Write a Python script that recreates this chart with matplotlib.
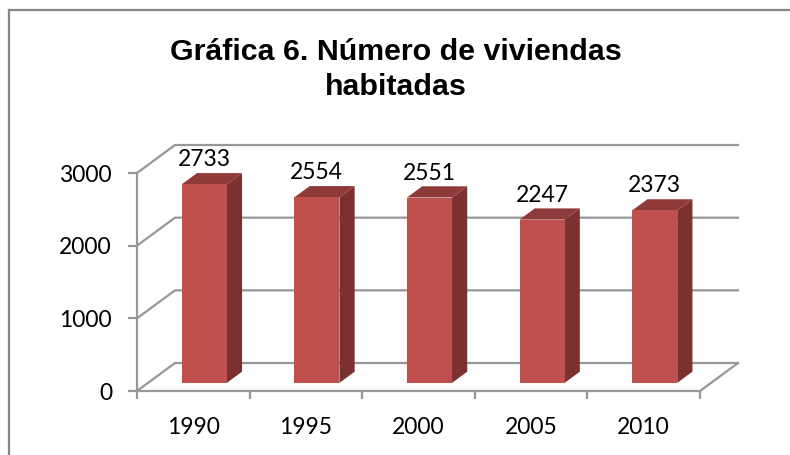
import matplotlib
matplotlib.use("Agg")
import matplotlib.pyplot as plt
from matplotlib.lines import Line2D
from matplotlib.patches import Polygon

years = ["1990", "1995", "2000", "2005", "2010"]
viviendas = [2733, 2554, 2551, 2247, 2373]
y_ticks = [0, 1000, 2000, 3000]
titulo = "Gráfica 6. Número de viviendas\nhabitadas"

W, H = 790, 455

fig = plt.figure(figsize=(W / 100, H / 100), dpi=100)
ax = fig.add_axes([137 / W, 1 - 391 / H, 563 / W, 218 / H])
ax.set_xlim(0, len(years))
ax.set_ylim(0, 3000)
ax.patch.set_visible(False)

# depth of the fake 3d box, in data units per unit of depth
dx = 38 / (563 / 5)
dy = 28 / (218 / 3000)
gray = "#979797"


def proj(x, y, d):
    return (x + d * dx, y + d * dy)


# back wall gridlines and floor edges
for t in y_ticks:
    ax.plot(*zip(proj(0, t, 0), proj(0, t, 1), proj(len(years), t, 1)),
            color=gray, lw=1.6, clip_on=False, zorder=1, solid_joinstyle="miter")
ax.plot(*zip(proj(len(years), 0, 0), proj(len(years), 0, 1)),
        color=gray, lw=1.6, clip_on=False, zorder=1)

# bars
d0, d1 = 0.29, 0.69
half = 0.2
for i, v in enumerate(viviendas):
    xc = i + 0.5
    l, r = xc - half, xc + half
    ax.add_patch(Polygon([proj(r, 0, d0), proj(r, 0, d1), proj(r, v, d1), proj(r, v, d0)],
                         fc="#7d3030", ec="none", clip_on=False, zorder=2))
    ax.add_patch(Polygon([proj(l, v, d0), proj(r, v, d0), proj(r, v, d1), proj(l, v, d1)],
                         fc="#8e3a38", ec="none", clip_on=False, zorder=2))
    ax.add_patch(Polygon([proj(l, 0, d0), proj(r, 0, d0), proj(r, v, d0), proj(l, v, d0)],
                         fc="#c0504d", ec="none", clip_on=False, zorder=3))
    lx, ly = proj(xc, v, d1)
    ax.annotate(str(v), (lx, ly), xytext=(-11, 2), textcoords="offset points",
                ha="center", va="bottom", fontsize=16.5, family="Lato",
                color="black", annotation_clip=False, zorder=4)

for s in ["top", "right"]:
    ax.spines[s].set_visible(False)
for s in ["left", "bottom"]:
    ax.spines[s].set_color(gray)
    ax.spines[s].set_linewidth(1.6)
ax.set_xticks(range(len(years) + 1))
ax.set_xticklabels([])
ax.set_xticks([i + 0.5 for i in range(len(years))], minor=True)
ax.set_xticklabels(years, minor=True, fontsize=16.5, family="Lato")
ax.tick_params(axis="x", which="minor", length=0, pad=19)
ax.tick_params(axis="x", which="major", length=6, width=1.6, color=gray)
ax.set_yticks(y_ticks)
ax.set_yticklabels([str(t) for t in y_ticks], fontsize=16.5, family="Lato")
ax.tick_params(axis="y", length=6.5, width=1.6, color=gray, pad=11.5)

fig.text(396 / W, 1 - 69.5 / H, titulo, ha="center", va="center", fontsize=21.9,
         fontweight="bold", family="Liberation Sans", linespacing=1.32)

# chart frame only shows on the top and left
fig.add_artist(Line2D([8.5 / W, 1], [1 - 10 / H, 1 - 10 / H], color="#868686", lw=1.6))
fig.add_artist(Line2D([9 / W, 9 / W], [1 - 10 / H, 0], color="#868686", lw=1.6))

fig.savefig("out.png", dpi=100)
